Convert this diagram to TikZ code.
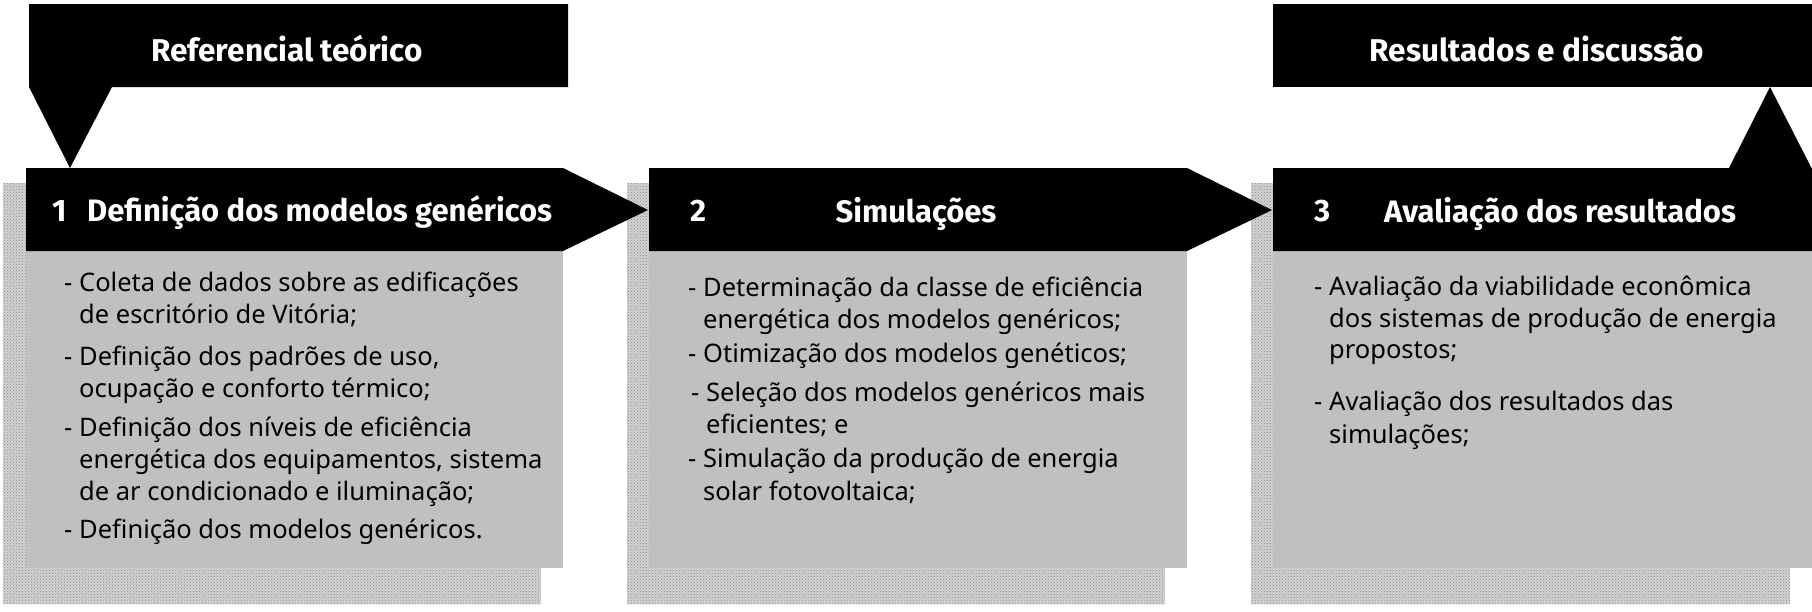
\documentclass[tikz,border=0pt]{standalone}
\usepackage{fontspec}
\usetikzlibrary{patterns}
\setmainfont{Noto Sans}
\newfontfamily\titlefont{Fira Sans}
\definecolor{boxgray}{HTML}{C0C0C0}
\definecolor{shadowgray}{HTML}{D2D2D2}
\tikzset{
  blackshape/.style={fill=black, draw=none},
  bodybox/.style={fill=boxgray, draw=none},
  shadowbox/.style={fill=shadowgray, draw=none},
  shadowdots/.style={pattern=crosshatch dots, pattern color=black!45},
  ttl/.style={anchor=base west, inner sep=0pt, text=white, font=\titlefont\bfseries\fontsize{31}{31}\selectfont},
  toptl/.style={anchor=base, inner sep=0pt, text=white, font=\titlefont\bfseries\fontsize{31.5}{31.5}\selectfont},
  bl/.style={anchor=base west, inner sep=0pt, text=black, font=\fontsize{25.5}{25.5}\selectfont}
}
\begin{document}
\begin{tikzpicture}[x=1pt, y=-1pt]
\useasboundingbox (0,0) rectangle (1812,611);
% shadows
\fill[shadowbox] (3,183) rectangle (541,604);
\fill[shadowbox] (627,183) rectangle (1165,604);
\fill[shadowbox] (1251,183) rectangle (1790,604);
\path[shadowdots] (3,183) rectangle (541,604);
\path[shadowdots] (627,183) rectangle (1165,604);
\path[shadowdots] (1251,183) rectangle (1790,604);
% bodies
\fill[bodybox] (26,251) rectangle (563,568);
\fill[bodybox] (649,251) rectangle (1187,568);
\fill[bodybox] (1273,251) rectangle (1812,568);
% headers
\fill[blackshape] (26,168) -- (563,168) -- (648,210) -- (563,251) -- (26,251) -- cycle;
\fill[blackshape] (649,168) -- (1187,168) -- (1272,210) -- (1187,251) -- (649,251) -- cycle;
\fill[blackshape] (1273,168) -- (1729,168) -- (1770,87) -- (1812,169) -- (1812,251) -- (1273,251) -- cycle;
% top boxes
\fill[blackshape] (29,4) -- (568,4) -- (568,87) -- (112,87) -- (70,168) -- (29,87) -- cycle;
\fill[blackshape] (1273,4) -- (1812,4) -- (1812,87) -- (1273,87) -- cycle;
% top titles
\node[toptl] (ref) at (287,61) {Referencial teórico};
\node[toptl] (res) at (1537,61) {Resultados e discussão};
% header titles
\node[ttl] (n1) at (52,221) {1};
\node[ttl] (t1) at (87,221) {Definição dos modelos genéricos};
\node[ttl] (n2) at (690,221) {2};
\node[ttl, anchor=base] (t2) at (916,222) {Simulações};
\node[ttl] (n3) at (1314,221) {3};
\node[ttl, anchor=base] (t3) at (1560,222) {Avaliação dos resultados};
% body 1
\node[bl] (a1d) at (64,291) {-};
\node[bl] (a1a) at (79,291) {Coleta de dados sobre as edificações};
\node[bl] (a1b) at (79,323) {de escritório de Vitória;};
\node[bl] (a2d) at (64,365) {-};
\node[bl] (a2a) at (79,365) {Definição dos padrões de uso,};
\node[bl] (a2b) at (79,397) {ocupação e conforto térmico;};
\node[bl] (a3d) at (64,436) {-};
\node[bl] (a3a) at (79,436) {Definição dos níveis de eficiência};
\node[bl] (a3b) at (79,468) {energética dos equipamentos, sistema};
\node[bl] (a3c) at (79,500) {de ar condicionado e iluminação;};
\node[bl] (a4d) at (64,538) {-};
\node[bl] (a4a) at (79,538) {Definição dos modelos genéricos.};
% body 2
\node[bl] (b1d) at (688,296) {-};
\node[bl] (b1a) at (703,296) {Determinação da classe de eficiência};
\node[bl] (b1b) at (703,328) {energética dos modelos genéricos;};
\node[bl] (b2d) at (688,362) {-};
\node[bl] (b2a) at (703,362) {Otimização dos modelos genéticos;};
\node[bl] (b3d) at (691,401) {-};
\node[bl] (b3a) at (706,401) {Seleção dos modelos genéricos mais};
\node[bl] (b3b) at (706,433) {eficientes; e};
\node[bl] (b4d) at (688,467) {-};
\node[bl] (b4a) at (703,467) {Simulação da produção de energia};
\node[bl] (b4b) at (703,500) {solar fotovoltaica;};
% body 3
\node[bl] (c1d) at (1314,295) {-};
\node[bl] (c1a) at (1329,295) {Avaliação da viabilidade econômica};
\node[bl] (c1b) at (1329,327) {dos sistemas de produção de energia};
\node[bl] (c1c) at (1329,358) {propostos;};
\node[bl] (c2d) at (1314,410) {-};
\node[bl] (c2a) at (1329,410) {Avaliação dos resultados das};
\node[bl] (c2b) at (1329,443) {simulações;};
\end{tikzpicture}
\end{document}
